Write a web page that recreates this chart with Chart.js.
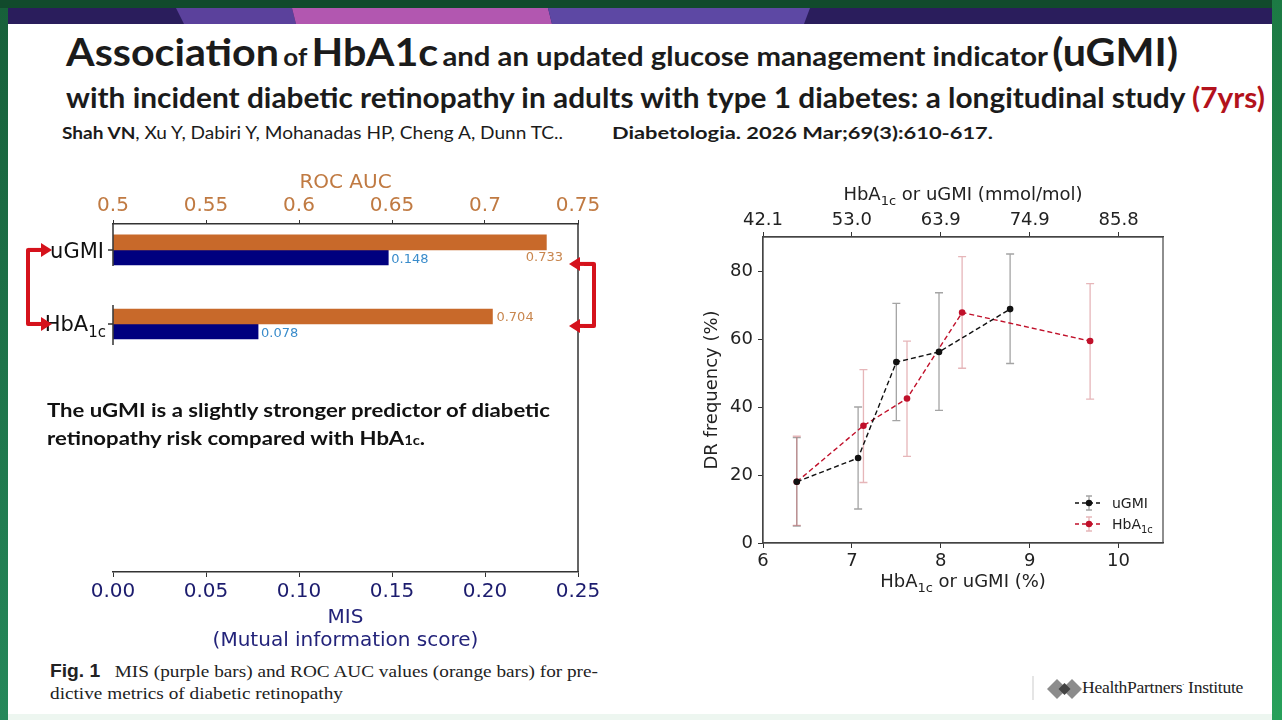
<!DOCTYPE html>
<html>
<head>
<meta charset="utf-8">
<script src="https://cdn.jsdelivr.net/npm/chart.js@4.4.1/dist/chart.umd.min.js"></script>
<style>
html, body { margin: 0; padding: 0; }
body { width: 1282px; height: 720px; position: relative; overflow: hidden; background: #114a2c; font-family: Lato, "Open Sans", sans-serif; }
.abs { position: absolute; white-space: nowrap; transform-origin: 0 0; display: inline-block; }
#slide { position: absolute; left: 8px; top: 8px; width: 1264px; height: 712px; background: #fff; }
#leftStrip { position: absolute; left: 0; top: 8px; width: 8px; height: 712px; background: linear-gradient(#17603a, #25885a); }
#rightStrip { position: absolute; left: 1272px; top: 0; width: 10px; height: 720px; background: linear-gradient(#1c7a44, #27a05a); }
#bottomStrip { position: absolute; left: 8px; top: 714px; width: 1264px; height: 6px; background: #edf6f0; }
#t1 { left: 66px; top: 28px; font-weight: 700; color: #1b1b1b; }
#t1 .big { font-size: 38px; }
#t1 .md { font-size: 27px; }
#t1 .sm { font-size: 24px; }
#t2 { left: 66px; top: 80px; font-weight: 700; font-size: 28px; color: #1b1b1b; }
#t2 .red { color: #b3121c; }
#auth1 { left: 62px; top: 122px; font-size: 17px; color: #1b1b1b; }
#auth2 { left: 612px; top: 122px; font-size: 17px; font-weight: 700; color: #1b1b1b; }
#para { left: 47px; top: 396px; font-size: 19.5px; font-weight: 700; line-height: 28px; color: #111; }
#para .s { font-size: 13px; }
#caption { left: 50px; top: 660px; font-family: "Liberation Serif", serif; font-size: 17.5px; line-height: 22px; color: #222; }
#caption b { font-family: "Liberation Sans", sans-serif; }
#logoText { left: 1082px; top: 678px; font-family: "Liberation Serif", serif; font-size: 17px; color: #222; letter-spacing: -0.3px; }
#leftCanvas { position: absolute; left: 0; top: 160px; }
#rightCanvas { position: absolute; left: 690px; top: 170px; }
</style>
</head>
<body>
<div id="slide"></div>
<div id="leftStrip"></div>
<div id="rightStrip"></div>
<div id="bottomStrip"></div>
<svg style="position:absolute;left:0;top:0" width="1282" height="30">
  <rect x="8" y="8" width="1264" height="16" fill="#2a1d5c"/>
  <polygon points="176,8 292,8 296,24 184,24" fill="#5b419c"/>
  <polygon points="292,8 548,8 552,24 296,24" fill="#b257b0"/>
  <polygon points="548,8 810,8 804,24 552,24" fill="#5d48a4"/>
</svg>

<div id="t1" class="abs"><span class="big">Association</span> <span class="sm">of</span> <span class="big">HbA1c</span> <span class="md">and an updated glucose management indicator</span> <span class="big">(uGMI)</span></div>
<div id="t2" class="abs">with incident diabetic retinopathy in adults with type 1 diabetes: a longitudinal study <span class="red">(7yrs)</span></div>
<div id="auth1" class="abs"><b>Shah VN</b>, Xu Y, Dabiri Y, Mohanadas HP, Cheng A, Dunn TC..</div>
<div id="auth2" class="abs">Diabetologia. 2026 Mar;69(3):610-617.</div>

<canvas id="leftCanvas" width="640" height="500"></canvas>
<canvas id="rightCanvas" width="500" height="430"></canvas>

<div id="para" class="abs">The uGMI is a slightly stronger predictor of diabetic<br>retinopathy risk compared with HbA<span class="s">1c</span>.</div>
<div id="caption" class="abs"><b>Fig. 1</b>&nbsp;&nbsp; MIS (purple bars) and ROC AUC values (orange bars) for pre-<br>dictive metrics of diabetic retinopathy</div>

<svg style="position:absolute;left:1030px;top:672px" width="60" height="36">
  <line x1="3" y1="4" x2="3" y2="28" stroke="#ddd" stroke-width="1.5"/>
  <polygon points="27,7 37,17 27,27 17,17" fill="#8c8c8c"/>
  <polygon points="42,7 52,17 42,27 32,17" fill="#8c8c8c"/>
  <polygon points="34.5,11 40.5,17 34.5,23 28.5,17" fill="#444"/>
</svg>
<div id="logoText" class="abs">HealthPartners<span style="font-size:8px;vertical-align:top">.</span> Institute</div>

<script>
// ---- Fig. 1 (bars) ----
const metrics = ['uGMI', 'HbA1c'];
const rocAuc = [0.733, 0.704];
const misScore = [0.148, 0.078];
const rocTicks = [0.5, 0.55, 0.6, 0.65, 0.7, 0.75];
const misTicks = [0, 0.05, 0.10, 0.15, 0.20, 0.25];

// ---- DR frequency (lines with error bars) ----
const uGmiX = [6.38, 7.07, 7.50, 7.98, 8.78];
const uGmiY = [18.0, 25.0, 53.2, 56.2, 68.8];
const uGmiLow = [5.0, 10.0, 36.0, 39.0, 52.8];
const uGmiHigh = [31.0, 40.0, 70.5, 73.6, 85.0];
const hbX = [6.38, 7.13, 7.62, 8.24, 9.68];
const hbY = [18.0, 34.5, 42.5, 67.8, 59.4];
const hbLow = [5.2, 17.8, 25.5, 51.4, 42.3];
const hbHigh = [31.4, 51.0, 59.4, 84.2, 76.3];
const pctTicks = [6, 7, 8, 9, 10];
const mmolLabels = ['42.1', '53.0', '63.9', '74.9', '85.8'];
const freqTicks = [0, 20, 40, 60, 80];

const ORANGE = '#c8692a';
const NAVY = '#00007f';

// text with subscript parts: [[text, isSub], ...], y = baseline
function drawRich(ctx, parts, x, y, align, size, color, family) {
    const sub = Math.round(size * 0.7);
    let w = 0;
    parts.forEach(p => { ctx.font = (p[1] ? sub : size) + 'px ' + family; w += ctx.measureText(p[0]).width; });
    let cx = align === 'center' ? x - w / 2 : align === 'right' ? x - w : x;
    ctx.textAlign = 'left';
    ctx.textBaseline = 'alphabetic';
    ctx.fillStyle = color;
    parts.forEach(p => {
        ctx.font = (p[1] ? sub : size) + 'px ' + family;
        ctx.fillText(p[0], cx, p[1] ? y + size * 0.28 : y);
        cx += ctx.measureText(p[0]).width;
    });
}

function redArrow(ctx, x1, y, x2) {
    const dir = Math.sign(x2 - x1);
    ctx.beginPath();
    ctx.moveTo(x1, y);
    ctx.lineTo(x2 - dir * 9, y);
    ctx.stroke();
    ctx.beginPath();
    ctx.moveTo(x2, y);
    ctx.lineTo(x2 - dir * 11, y - 7);
    ctx.lineTo(x2 - dir * 11, y + 7);
    ctx.closePath();
    ctx.fill();
}

const leftDecor = {
    id: 'leftDecor',
    afterDraw(chart) {
        const ctx = chart.ctx;
        const area = chart.chartArea;
        const yScale = chart.scales.y;
        const p = metrics.map((m, i) => yScale.getPixelForValue(i));
        ctx.save();
        // spines
        ctx.strokeStyle = '#333';
        ctx.lineWidth = 1.5;
        ctx.beginPath();
        ctx.moveTo(area.right, area.top);
        ctx.lineTo(area.right, area.bottom);
        ctx.moveTo(area.left, area.top);
        ctx.lineTo(area.left, p[0] + 16);
        ctx.moveTo(area.left, p[1] - 19);
        ctx.lineTo(area.left, p[1] + 21);
        p.forEach(py => { ctx.moveTo(area.left - 5, py); ctx.lineTo(area.left, py); });
        ctx.stroke();
        // category labels
        drawRich(ctx, [['uGMI', false]], area.left - 9, p[0] + 8, 'right', 21, '#111', '"DejaVu Sans"');
        drawRich(ctx, [['HbA', false], ['1c', true]], area.left - 7, p[1] + 7, 'right', 21, '#111', '"DejaVu Sans"');
        // value labels
        ctx.font = '13px "DejaVu Sans"';
        ctx.textBaseline = 'middle';
        const rocMeta = chart.getDatasetMeta(0);
        const misMeta = chart.getDatasetMeta(1);
        rocMeta.data.forEach((bar, i) => {
            const txt = rocAuc[i].toFixed(3);
            const w = ctx.measureText(txt).width;
            ctx.fillStyle = '#c8864e';
            if (bar.x + 4 + w > area.right) {
                ctx.textAlign = 'center';
                ctx.fillText(txt, bar.x - 2, bar.y + bar.height / 2 + 8);
            } else {
                ctx.textAlign = 'left';
                ctx.fillText(txt, bar.x + 4, bar.y + 1);
            }
        });
        misMeta.data.forEach((bar, i) => {
            ctx.fillStyle = '#3a8ccb';
            ctx.textAlign = 'left';
            ctx.fillText(misScore[i].toFixed(3), bar.x + 3, bar.y + 2);
        });
        // red brackets
        ctx.strokeStyle = '#d5121c';
        ctx.fillStyle = '#d5121c';
        ctx.lineWidth = 4;
        ctx.lineJoin = 'round';
        ctx.beginPath();
        ctx.moveTo(40, p[0]);
        ctx.lineTo(28, p[0]);
        ctx.lineTo(28, p[1]);
        ctx.lineTo(40, p[1]);
        ctx.stroke();
        redArrow(ctx, 28, p[0], 52);
        redArrow(ctx, 28, p[1], 52);
        const r0 = p[0] + 14, r1 = p[1] + 2;
        ctx.beginPath();
        ctx.moveTo(584, r0);
        ctx.lineTo(594, r0);
        ctx.lineTo(594, r1);
        ctx.lineTo(584, r1);
        ctx.stroke();
        redArrow(ctx, 594, r0, 569);
        redArrow(ctx, 594, r1, 569);
        ctx.restore();
    }
};

new Chart(document.getElementById('leftCanvas'), {
    type: 'bar',
    data: {
        datasets: [
            {
                label: 'ROC AUC',
                data: rocAuc.map((v, i) => ({ x: v, y: i })),
                backgroundColor: ORANGE,
                xAxisID: 'xRoc',
                yAxisID: 'y',
                base: rocTicks[0],
                barThickness: 15
            },
            {
                label: 'MIS',
                data: misScore.map((v, i) => ({ x: v, y: i })),
                backgroundColor: NAVY,
                xAxisID: 'xMis',
                yAxisID: 'y',
                barThickness: 15
            }
        ]
    },
    options: {
        indexAxis: 'y',
        responsive: false,
        animation: false,
        layout: { padding: { left: 0, right: 62, top: 0, bottom: 0 } },
        plugins: { legend: { display: false }, tooltip: { enabled: false } },
        scales: {
            y: {
                type: 'linear',
                reverse: true,
                offset: false,
                min: -0.35,
                max: 4.35,
                ticks: { display: false },
                grid: { display: false },
                border: { display: false },
                afterBuildTicks: s => { s.ticks = metrics.map((m, i) => ({ value: i })); },
                afterFit: s => { s.width = 113; }
            },
            xRoc: {
                type: 'linear',
                position: 'top',
                axis: 'x',
                min: 0.5,
                max: 0.75,
                afterBuildTicks: s => { s.ticks = rocTicks.map(v => ({ value: v })); },
                ticks: { color: '#c07a42', font: { family: 'DejaVu Sans', size: 20 }, padding: 2, callback: v => String(v) },
                grid: { drawOnChartArea: false, tickLength: 4, tickColor: '#333' },
                border: { color: '#333', width: 1.5 },
                title: { display: true, text: 'ROC AUC', color: '#c07a42', font: { family: 'DejaVu Sans', size: 20 }, padding: { top: 11, bottom: 0 } },
                afterFit: s => { s.height = 64; }
            },
            xMis: {
                type: 'linear',
                position: 'bottom',
                axis: 'x',
                min: 0,
                max: 0.25,
                afterBuildTicks: s => { s.ticks = misTicks.map(v => ({ value: v })); },
                ticks: { color: '#1c1c6e', font: { family: 'DejaVu Sans', size: 20 }, padding: 3, callback: v => v.toFixed(2) },
                grid: { drawOnChartArea: false, tickLength: 5, tickColor: '#333' },
                border: { color: '#333', width: 1.5 },
                title: { display: true, text: ['MIS', '(Mutual information score)'], color: '#23237a', font: { family: 'DejaVu Sans', size: 20, lineHeight: 1.15 }, padding: { top: 0, bottom: 8 } },
                afterFit: s => { s.height = 88; }
            }
        }
    },
    plugins: [leftDecor]
});

const errorBars = {
    id: 'errorBars',
    beforeDatasetsDraw(chart) {
        const ctx = chart.ctx;
        const xs = chart.scales.x, ys = chart.scales.y;
        const sets = [
            [uGmiX, uGmiLow, uGmiHigh, 'rgba(90,90,90,0.55)'],
            [hbX, hbLow, hbHigh, 'rgba(205,110,115,0.5)']
        ];
        ctx.save();
        ctx.lineWidth = 1.3;
        sets.forEach(([xv, lo, hi, col]) => {
            ctx.strokeStyle = col;
            xv.forEach((v, i) => {
                const px = xs.getPixelForValue(v);
                const top = ys.getPixelForValue(hi[i]);
                const bot = ys.getPixelForValue(lo[i]);
                ctx.beginPath();
                ctx.moveTo(px, top); ctx.lineTo(px, bot);
                ctx.moveTo(px - 4, top); ctx.lineTo(px + 4, top);
                ctx.moveTo(px - 4, bot); ctx.lineTo(px + 4, bot);
                ctx.stroke();
            });
        });
        ctx.restore();
    },
    afterDraw(chart) {
        const ctx = chart.ctx;
        const a = chart.chartArea;
        ctx.save();
        // frame
        ctx.strokeStyle = '#444';
        ctx.lineWidth = 1.2;
        ctx.strokeRect(a.left, a.top, a.right - a.left, a.bottom - a.top);
        // axis titles with subscripts
        const mid = (a.left + a.right) / 2;
        drawRich(ctx, [['HbA', false], ['1c', true], [' or uGMI (mmol/mol)', false]], mid, 30, 'center', 18, '#222', '"DejaVu Sans"');
        drawRich(ctx, [['HbA', false], ['1c', true], [' or uGMI (%)', false]], mid, 417, 'center', 18, '#222', '"DejaVu Sans"');
        // legend
        const entries = [
            ['#111', 'rgba(90,90,90,0.55)', [['uGMI', false]]],
            ['#c0102a', 'rgba(205,110,115,0.5)', [['HbA', false], ['1c', true]]]
        ];
        entries.forEach(([col, ecol, label], k) => {
            const y = a.bottom - 40 + k * 21;
            const x0 = a.right - 88, x1 = a.right - 60, xm = (x0 + x1) / 2;
            ctx.strokeStyle = ecol;
            ctx.lineWidth = 1.3;
            ctx.setLineDash([]);
            ctx.beginPath();
            ctx.moveTo(xm, y - 7); ctx.lineTo(xm, y + 7);
            ctx.moveTo(xm - 3, y - 7); ctx.lineTo(xm + 3, y - 7);
            ctx.moveTo(xm - 3, y + 7); ctx.lineTo(xm + 3, y + 7);
            ctx.stroke();
            ctx.strokeStyle = col;
            ctx.setLineDash([4, 3]);
            ctx.beginPath();
            ctx.moveTo(x0, y); ctx.lineTo(x1, y);
            ctx.stroke();
            ctx.setLineDash([]);
            ctx.fillStyle = col;
            ctx.beginPath();
            ctx.arc(xm, y, 3.2, 0, Math.PI * 2);
            ctx.fill();
            drawRich(ctx, label, x1 + 9, y + 5, 'left', 14, '#222', '"DejaVu Sans"');
        });
        ctx.restore();
    }
};

const tickFont = { family: 'DejaVu Sans', size: 18, lineHeight: 1 };
new Chart(document.getElementById('rightCanvas'), {
    type: 'line',
    data: {
        datasets: [
            {
                label: 'uGMI',
                data: uGmiX.map((x, i) => ({ x: x, y: uGmiY[i] })),
                borderColor: '#111',
                backgroundColor: '#111',
                borderDash: [5, 3],
                borderWidth: 1.4,
                pointRadius: 3.3,
                pointBorderWidth: 0,
                xAxisID: 'x',
                yAxisID: 'y'
            },
            {
                label: 'HbA1c',
                data: hbX.map((x, i) => ({ x: x, y: hbY[i] })),
                borderColor: '#c0102a',
                backgroundColor: '#c0102a',
                borderDash: [5, 3],
                borderWidth: 1.4,
                pointRadius: 3.3,
                pointBorderWidth: 0,
                xAxisID: 'x',
                yAxisID: 'y'
            }
        ]
    },
    options: {
        responsive: false,
        animation: false,
        layout: { padding: { left: 0, right: 27, top: 0, bottom: 0 } },
        plugins: { legend: { display: false }, tooltip: { enabled: false } },
        scales: {
            x: {
                type: 'linear',
                position: 'bottom',
                min: 6,
                max: 10.5,
                afterBuildTicks: s => { s.ticks = pctTicks.map(v => ({ value: v })); },
                ticks: { color: '#222', font: tickFont, padding: 4 },
                grid: { drawOnChartArea: false, tickLength: 5, tickColor: '#333' },
                border: { color: '#444', width: 1.2 },
                afterFit: s => { s.height = 57; }
            },
            x2: {
                type: 'linear',
                position: 'top',
                axis: 'x',
                min: 6,
                max: 10.5,
                afterBuildTicks: s => { s.ticks = pctTicks.map(v => ({ value: v })); },
                ticks: { color: '#222', font: tickFont, padding: 3, callback: (v, i) => mmolLabels[i] },
                grid: { drawOnChartArea: false, tickLength: 5, tickColor: '#333' },
                border: { color: '#444', width: 1.2 },
                afterFit: s => { s.height = 67; }
            },
            y: {
                type: 'linear',
                min: 0,
                max: 90,
                afterBuildTicks: s => { s.ticks = freqTicks.map(v => ({ value: v })); },
                ticks: { color: '#222', font: tickFont, padding: 5 },
                grid: { drawOnChartArea: false, tickLength: 5, tickColor: '#333' },
                border: { color: '#444', width: 1.2 },
                title: { display: true, text: 'DR frequency (%)', color: '#222', font: { family: 'DejaVu Sans', size: 18 }, padding: { top: 12, bottom: 0 } },
                afterFit: s => { s.width = 73; }
            }
        }
    },
    plugins: [errorBars]
});

// squeeze the slide text lines to the widths they have on the slide
function fitWidth(id, w) {
    const el = document.getElementById(id);
    const actual = el.getBoundingClientRect().width;
    el.style.transform = 'scaleX(' + (w / actual) + ')';
}
fitWidth('t1', 1112);
fitWidth('t2', 1199);
fitWidth('auth1', 501);
fitWidth('auth2', 381);
fitWidth('para', 503);
fitWidth('caption', 548);
fitWidth('logoText', 161);
</script>
</body>
</html>
